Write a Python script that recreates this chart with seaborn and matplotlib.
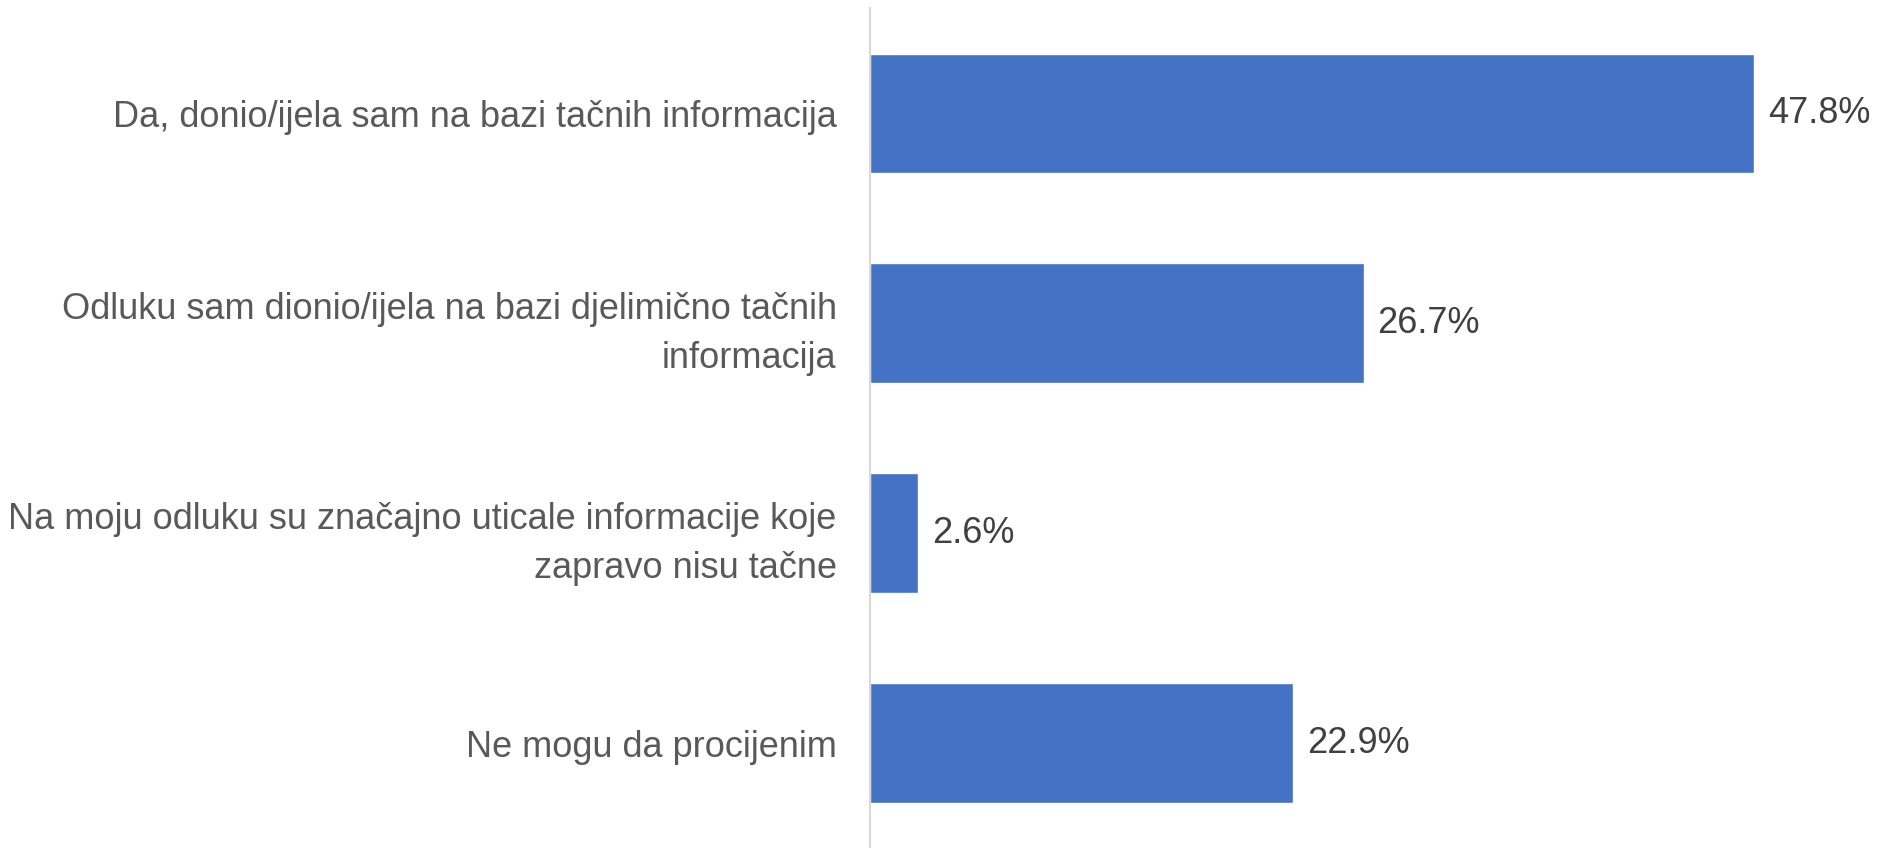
import matplotlib
matplotlib.use("Agg")
import matplotlib.pyplot as plt
import seaborn as sns
import pandas as pd

categories = [
    "Da, donio/ijela sam na bazi tačnih informacija",
    "Odluku sam dionio/ijela na bazi djelimično tačnih\ninformacija",
    "Na moju odluku su značajno uticale informacije koje\nzapravo nisu tačne",
    "Ne mogu da procijenim",
]
values = [47.8, 26.7, 2.6, 22.9]
value_labels = ["47.8%", "26.7%", "2.6%", "22.9%"]

df = pd.DataFrame({"answer": categories, "pct": values})

sns.set_style("white")
plt.rcParams["font.family"] = ["Liberation Sans", "DejaVu Sans"]

fig = plt.figure(figsize=(18.77, 8.48), dpi=100)
ax = fig.add_axes([0.4635, 0.0, 0.532, 0.99])
sns.barplot(data=df, y="answer", x="pct", color="#4472C4", saturation=1,
            width=0.57, orient="h", ax=ax)

for i, (v, lab) in enumerate(zip(values, value_labels)):
    ax.text(v + 0.75, i, lab, va="center", ha="left", fontsize=26, color="#404040")

ax.set_xlim(0, 54)
ax.set_ylim(3.5, -0.5)
ax.set_xlabel("")
ax.set_ylabel("")
ax.set_xticks([])
for s in ["top", "right", "bottom"]:
    ax.spines[s].set_visible(False)
ax.spines["left"].set_color("#D9D9D9")
ax.spines["left"].set_linewidth(1.5)
ax.tick_params(axis="y", length=0, pad=24, labelsize=26, labelcolor="#595959")
for t in ax.get_yticklabels():
    t.set_linespacing(1.5)

fig.savefig("out.png", dpi=100)
